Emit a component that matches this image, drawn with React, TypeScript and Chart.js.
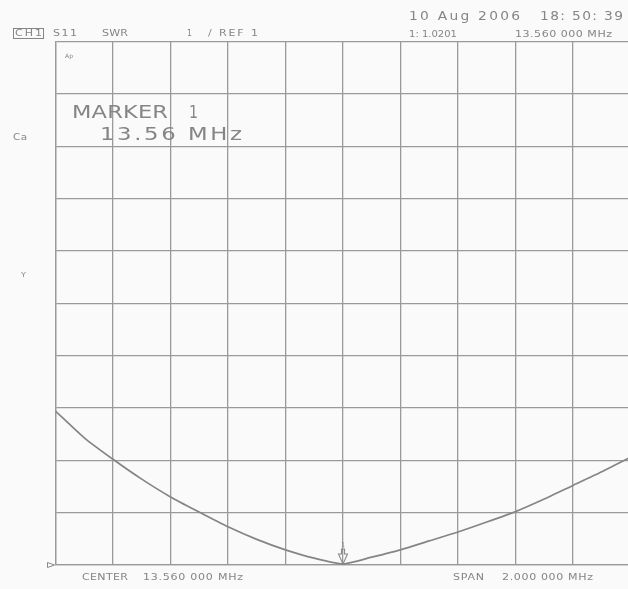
import React, { useEffect, useRef } from "react";
import { Chart, registerables } from "chart.js";

Chart.register(...registerables);

// ---- data ----
const freqMHz = [
  12.56, 12.66, 12.76, 12.86, 12.96, 13.06, 13.16, 13.26, 13.36, 13.46, 13.56,
  13.66, 13.76, 13.86, 13.96, 14.06, 14.16, 14.26, 14.36, 14.46, 14.56,
];
const swr = [
  3.94, 3.43, 3.02, 2.64, 2.3, 2.01, 1.73, 1.49, 1.29, 1.13, 1.0201,
  1.15, 1.29, 1.46, 1.63, 1.82, 2.02, 2.26, 2.52, 2.78, 3.06,
];
const xTicks = [12.56, 12.76, 12.96, 13.16, 13.36, 13.56, 13.76, 13.96, 14.16, 14.36, 14.56];
const yTicks = [1, 2, 3, 4, 5, 6, 7, 8, 9, 10, 11];
const markerFreq = 13.56;
const markerValue = 1.0201;
const refValue = 1;

const INK = "#858585";
const GRID = "#9a9a9a";
const BG = "#fafafa";
const FONT = "'DejaVu Sans'";

function fitText(
  ctx: CanvasRenderingContext2D,
  text: string,
  x: number,
  baseline: number,
  width: number,
  size: number,
  sx = 1.3
) {
  ctx.save();
  ctx.font = `${size}px ${FONT}`;
  (ctx as any).letterSpacing = "0px";
  const w = ctx.measureText(text).width * sx;
  const n = Math.max(text.length - 1, 1);
  let ls = (width - w) / n / sx;
  let scale = sx;
  if (ls < 0) {
    ls = 0;
    scale = (width / w) * sx;
  }
  (ctx as any).letterSpacing = `${ls}px`;
  ctx.translate(x, baseline);
  ctx.scale(scale, 1);
  ctx.textAlign = "left";
  ctx.textBaseline = "alphabetic";
  ctx.fillStyle = INK;
  ctx.fillText(text, 0, 0);
  ctx.restore();
}

const bgPlugin = {
  id: "bg",
  beforeDraw(chart: any) {
    const ctx = chart.ctx;
    ctx.save();
    ctx.fillStyle = BG;
    ctx.fillRect(0, 0, chart.width, chart.height);
    ctx.restore();
  },
};

const annotPlugin = {
  id: "annot",
  afterDraw(chart: any) {
    const ctx: CanvasRenderingContext2D = chart.ctx;
    // header
    fitText(ctx, "10 Aug 2006", 409, 20, 111, 11.5, 1.2);
    fitText(ctx, "18: 50: 39", 540, 20, 83, 11.5, 1.2);
    fitText(ctx, "CH1", 15, 36, 27, 8.5);
    ctx.save();
    ctx.strokeStyle = INK;
    ctx.lineWidth = 1;
    ctx.strokeRect(13.5, 28.5, 30, 10);
    ctx.restore();
    fitText(ctx, "S11", 53, 36, 24, 8.5);
    fitText(ctx, "SWR", 102, 36, 26, 8.5);
    fitText(ctx, "1", 187, 36, 5, 8.5);
    fitText(ctx, "/ REF 1", 208, 36, 50, 8.5);
    fitText(ctx, "1: 1.0201", 409, 37, 48, 8.5);
    fitText(ctx, "13.560 000 MHz", 515, 37, 97, 8.5);
    // side labels
    fitText(ctx, "Ap", 65, 58, 8, 6);
    fitText(ctx, "Ca", 13, 140, 14, 8);
    fitText(ctx, "Y", 21, 277, 5, 7);
    // marker box text
    fitText(ctx, "MARKER", 72, 118, 96, 18, 1.25);
    fitText(ctx, "1", 189, 118, 9, 18, 1.25);
    fitText(ctx, "13.56 MHz", 100, 140, 142, 17.5, 1.3);
    // footer
    fitText(ctx, "CENTER", 82, 580, 46, 8.5);
    fitText(ctx, "13.560 000 MHz", 143, 580, 100, 8.5);
    fitText(ctx, "SPAN", 453, 580, 31, 8.5);
    fitText(ctx, "2.000 000 MHz", 502, 580, 91, 8.5);

    // marker arrow
    const xs = chart.scales.x;
    const ys = chart.scales.y;
    const mx = xs.getPixelForValue(markerFreq);
    const my = ys.getPixelForValue(markerValue);
    ctx.save();
    ctx.strokeStyle = "#888";
    ctx.lineWidth = 1.1;
    ctx.beginPath();
    ctx.moveTo(mx - 1.5, my - 15);
    ctx.lineTo(mx + 1.5, my - 15);
    ctx.lineTo(mx + 1.5, my - 10);
    ctx.lineTo(mx + 4.5, my - 10);
    ctx.lineTo(mx, my);
    ctx.lineTo(mx - 4.5, my - 10);
    ctx.lineTo(mx - 1.5, my - 10);
    ctx.closePath();
    ctx.stroke();
    ctx.restore();
    fitText(ctx, "1", mx - 2, my - 17, 4, 7);

    // reference position marker
    const rx = xs.left;
    const ry = ys.getPixelForValue(refValue);
    ctx.save();
    ctx.strokeStyle = "#888";
    ctx.lineWidth = 1;
    ctx.beginPath();
    ctx.moveTo(rx - 8, ry - 2.5);
    ctx.lineTo(rx - 1, ry);
    ctx.lineTo(rx - 8, ry + 2.5);
    ctx.closePath();
    ctx.stroke();
    ctx.restore();
  },
};

export default function App() {
  const ref = useRef<HTMLCanvasElement | null>(null);

  useEffect(() => {
    if (!ref.current) return;
    const chart = new Chart(ref.current, {
      type: "line",
      data: {
        datasets: [
          {
            data: freqMHz.map((f, i) => ({ x: f, y: swr[i] })),
            borderColor: "#858585",
            borderWidth: 1.7,
            pointRadius: 0,
            tension: 0.2,
            fill: false,
          },
        ],
      },
      options: {
        animation: false,
        responsive: false,
        devicePixelRatio: 1,
        layout: { padding: { left: 55.5, right: 9.5, top: 41.5, bottom: 24 } },
        plugins: {
          legend: { display: false },
          tooltip: { enabled: false },
          title: { display: false },
        },
        scales: {
          x: {
            type: "linear",
            min: xTicks[0],
            max: xTicks[xTicks.length - 1],
            afterBuildTicks: (axis: any) => {
              axis.ticks = xTicks.map((v) => ({ value: v }));
            },
            ticks: { display: false },
            grid: { color: GRID, lineWidth: 1.3, drawTicks: false },
            border: { display: true, color: GRID, width: 1.3 },
          },
          y: {
            type: "linear",
            min: yTicks[0],
            max: yTicks[yTicks.length - 1],
            afterBuildTicks: (axis: any) => {
              axis.ticks = yTicks.map((v) => ({ value: v }));
            },
            ticks: { display: false },
            grid: { color: GRID, lineWidth: 1.3, drawTicks: false },
            border: { display: true, color: GRID, width: 1.3 },
          },
        },
      },
      plugins: [bgPlugin, annotPlugin],
    });
    return () => chart.destroy();
  }, []);

  return (
    <div
      style={{
        position: "fixed",
        left: 0,
        top: 0,
        width: 628,
        height: 589,
        overflow: "hidden",
        background: BG,
      }}
    >
      <canvas ref={ref} width={640} height={589} style={{ display: "block", width: 640, height: 589 }} />
    </div>
  );
}
